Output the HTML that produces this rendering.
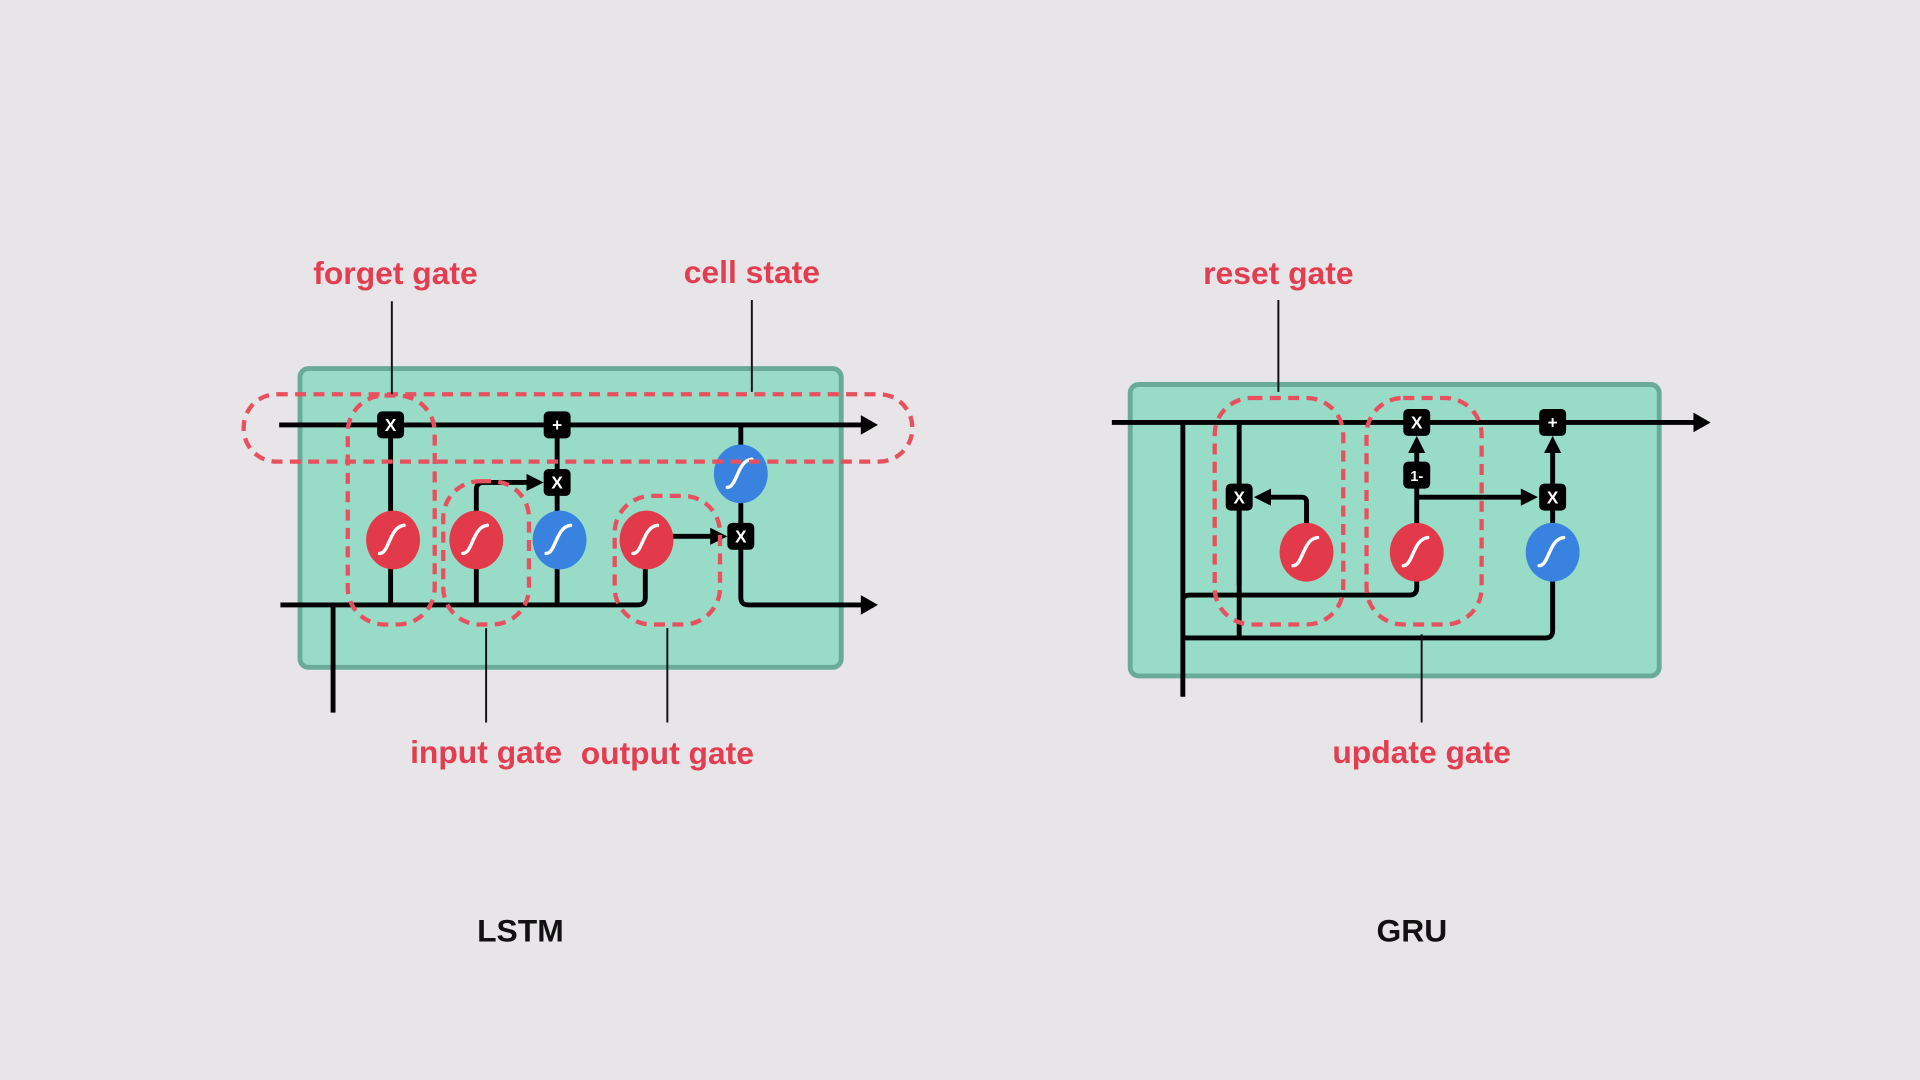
<!DOCTYPE html>
<html><head><style>html,body{margin:0;padding:0;background:#e7e5e7;}svg{display:block}</style></head><body>
<svg width="1920" height="1080" viewBox="0 0 1568 882" xmlns="http://www.w3.org/2000/svg">
<defs>
<g id="sig"><path d="M-11,11 C-3,11 -3,-11 9,-12" stroke="#fff" stroke-width="2.8" fill="none" stroke-linecap="round"/></g>
</defs>
<rect width="1568" height="882" fill="#e7e5e7"/>
<style>
.l{stroke:#000;stroke-width:4;fill:none;stroke-linejoin:round}
.d{stroke:#e8505f;stroke-width:3.5;fill:none;stroke-dasharray:9 6}
.t{font-family:"Liberation Sans",sans-serif;font-weight:bold;font-size:26px;fill:#e23d50;text-anchor:middle}
.k{font-family:"Liberation Sans",sans-serif;font-weight:bold;font-size:26px;fill:#111;text-anchor:middle}
.thin{stroke:#111;stroke-width:1.6}
.op{font-family:"Liberation Sans",sans-serif;font-weight:bold;font-size:14px;fill:#fff;text-anchor:middle}
</style>
<!-- LSTM -->
<rect x="245" y="301" width="442" height="244" rx="7" fill="#98dcc8" stroke="#6aab97" stroke-width="4"/>
<path class="l" d="M228,347 H705"/><path d="M703,339 L717,347 L703,355Z"/>
<path class="l" d="M229,494 H521 Q527,494 527,488 V441"/>
<path class="l" d="M605,347 V488 Q605,494 611,494 H705"/><path d="M703,486 L717,494 L703,502Z"/>
<path class="l" d="M272,494 V582"/>
<path class="l" d="M319,347 V494"/>
<path class="l" d="M389,494 V400 Q389,394 395,394 H434"/><path d="M430,387 L444,394 L430,401Z"/>
<path class="l" d="M455,347 V494"/>
<path class="l" d="M548,438 H584"/><path d="M580,431 L594,438 L580,445Z"/>
<ellipse cx="321" cy="441" rx="22" ry="24" fill="#e23a4a"/><use href="#sig" x="321" y="441"/>
<ellipse cx="389" cy="441" rx="22" ry="24" fill="#e23a4a"/><use href="#sig" x="389" y="441"/>
<ellipse cx="457" cy="441" rx="22" ry="24" fill="#3a82df"/><use href="#sig" x="457" y="441"/>
<ellipse cx="528" cy="441" rx="22" ry="24" fill="#e23a4a"/><use href="#sig" x="528" y="441"/>
<ellipse cx="605" cy="387" rx="22" ry="24" fill="#3a82df"/><use href="#sig" x="605" y="387"/>
<rect x="308" y="336" width="22" height="22" rx="4"/><text class="op" x="319" y="352">X</text>
<rect x="444" y="336" width="22" height="22" rx="4"/><text class="op" x="455" y="352">+</text>
<rect x="444" y="383" width="22" height="22" rx="4"/><text class="op" x="455" y="399">X</text>
<rect x="594" y="427" width="22" height="22" rx="4"/><text class="op" x="605" y="443">X</text>
<rect class="d" x="199" y="322" width="546" height="55" rx="27"/>
<rect class="d" x="284" y="323" width="71" height="187" rx="30"/>
<rect class="d" x="362" y="393" width="70" height="117" rx="30"/>
<rect class="d" x="502" y="405" width="86" height="105" rx="30"/>
<text class="t" x="323" y="232">forget gate</text>
<text class="t" x="614" y="231">cell state</text>
<text class="t" x="397" y="623">input gate</text>
<text class="t" x="545" y="624">output gate</text>
<path class="thin" d="M320,246 V322 M614,245 V320 M397,513 V590 M545,513 V590"/>
<text class="k" x="425" y="769">LSTM</text>
<!-- GRU -->
<rect x="923" y="314" width="432" height="238" rx="7" fill="#98dcc8" stroke="#6aab97" stroke-width="4"/>
<path class="l" d="M908,345 H1385"/><path d="M1383,337 L1397,345 L1383,353Z"/>
<path class="l" d="M966,345 V569"/>
<path class="l" d="M1012,345 V478"/>
<path class="l" d="M1012,406 V521"/>
<path class="l" d="M1067,451 V410 Q1067,406 1063,406 H1034"/><path d="M1038,399 L1024,406 L1038,413Z"/>
<path class="l" d="M966,490 Q966,486 972,486 H1151 Q1157,486 1157,480 V365"/><path d="M1150,370 L1157,356 L1164,370Z"/>
<path class="l" d="M1157,406 H1246"/><path d="M1242,399 L1256,406 L1242,413Z"/>
<path class="l" d="M1268,406 V365"/><path d="M1261,370 L1268,356 L1275,370Z"/>
<path class="l" d="M966,521 H1262 Q1268,521 1268,515 V451"/>
<path class="l" d="M1268,451 V406"/>
<ellipse cx="1067" cy="451" rx="22" ry="24" fill="#e23a4a"/><use href="#sig" x="1067" y="451"/>
<ellipse cx="1157" cy="451" rx="22" ry="24" fill="#e23a4a"/><use href="#sig" x="1157" y="451"/>
<ellipse cx="1268" cy="451" rx="22" ry="24" fill="#3a82df"/><use href="#sig" x="1268" y="451"/>
<rect x="1146" y="334" width="22" height="22" rx="4"/><text class="op" x="1157" y="350">X</text>
<rect x="1257" y="334" width="22" height="22" rx="4"/><text class="op" x="1268" y="350">+</text>
<rect x="1146" y="377" width="22" height="22" rx="4"/><text class="op" x="1157" y="393" style="font-size:12px">1-</text>
<rect x="1257" y="395" width="22" height="22" rx="4"/><text class="op" x="1268" y="411">X</text>
<rect x="1001" y="395" width="22" height="22" rx="4"/><text class="op" x="1012" y="411">X</text>
<rect class="d" x="992" y="325" width="105" height="185" rx="30"/>
<rect class="d" x="1116" y="325" width="94" height="185" rx="30"/>
<text class="t" x="1044" y="232">reset gate</text>
<text class="t" x="1161" y="623">update gate</text>
<path class="thin" d="M1044,245 V320 M1161,518 V590"/>
<text class="k" x="1153" y="769">GRU</text>
</svg>
</body></html>
